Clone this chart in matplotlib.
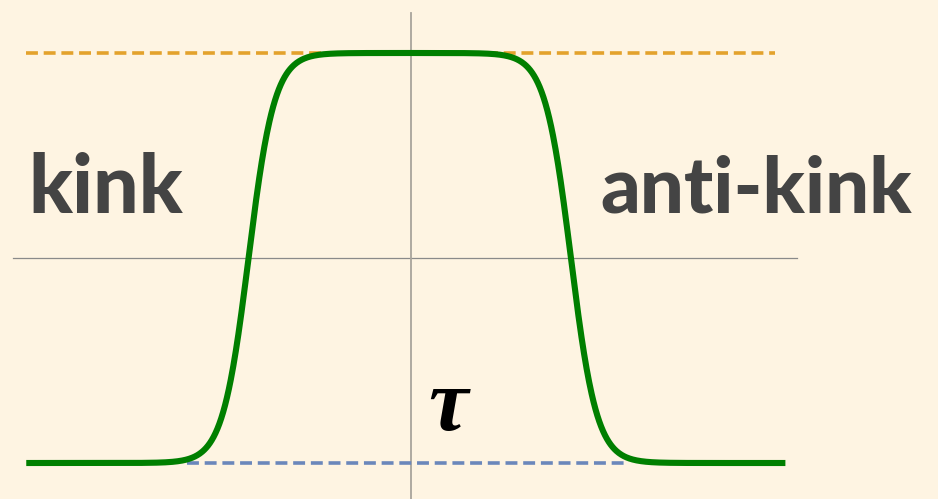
import numpy as np
import matplotlib.pyplot as plt

# kink / anti-kink profile parameters (time axis in units of the kink width)
kink_at = -6.25
antikink_at = 6.15
kink_width = 1.0
vacua = [-1.0, 1.0]          # lower and upper vacuum
tau_range = [-14.8, 14.4]    # extent of the drawn profile
upper_dash = [-14.8, 14.0]   # upper vacuum guide
lower_dash = [-8.6, 8.4]     # lower vacuum guide
labels = ["kink", "anti-kink"]

bg = "#fef4e2"

fig = plt.figure(figsize=(9.38, 4.99), dpi=100, facecolor=bg)
ax = fig.add_axes([0, 0, 1, 1])
ax.set_facecolor(bg)
ax.set_xlim(-15.81, 20.27)
ax.set_ylim(-1.1756, 1.2585)
ax.axis("off")

# coordinate axes
ax.plot([-15.3, 14.85], [0, 0], color="#8a8a8a", lw=0.9, zorder=1)
ax.plot([0, 0], [-1.2, 1.195], color="#a8a49c", lw=1.3, zorder=1)

# vacuum guides
ax.plot(upper_dash, [vacua[1]] * 2, color="#e3a22c", lw=2.6,
        linestyle=(0, (3.3, 1.6)), zorder=2)
ax.plot(lower_dash, [vacua[0]] * 2, color="#6b87bb", lw=2.6,
        linestyle=(0, (3.3, 1.6)), zorder=2)

# kink-antikink configuration
t = np.linspace(tau_range[0], tau_range[1], 1200)
amp = (vacua[1] - vacua[0]) / 2
phi = vacua[0] + amp * (np.tanh((t - kink_at) / kink_width)
                        - np.tanh((t - antikink_at) / kink_width))
ax.plot(t, phi, color="#007f00", lw=4.4, solid_capstyle="butt", zorder=3)

ax.text(-14.7, 0.22, labels[0], fontsize=58, fontweight="black",
        family="Lato", color="#444444", ha="left", va="baseline")
ax.text(7.3, 0.22, labels[1], fontsize=56, fontweight="black",
        family="Lato", color="#444444", ha="left", va="baseline")
ax.text(0.65, -0.84, "τ", fontsize=64, fontweight="bold", style="italic",
        family="Liberation Serif", color="black", ha="left", va="baseline")

fig.savefig("out.png", dpi=100, facecolor=bg)
